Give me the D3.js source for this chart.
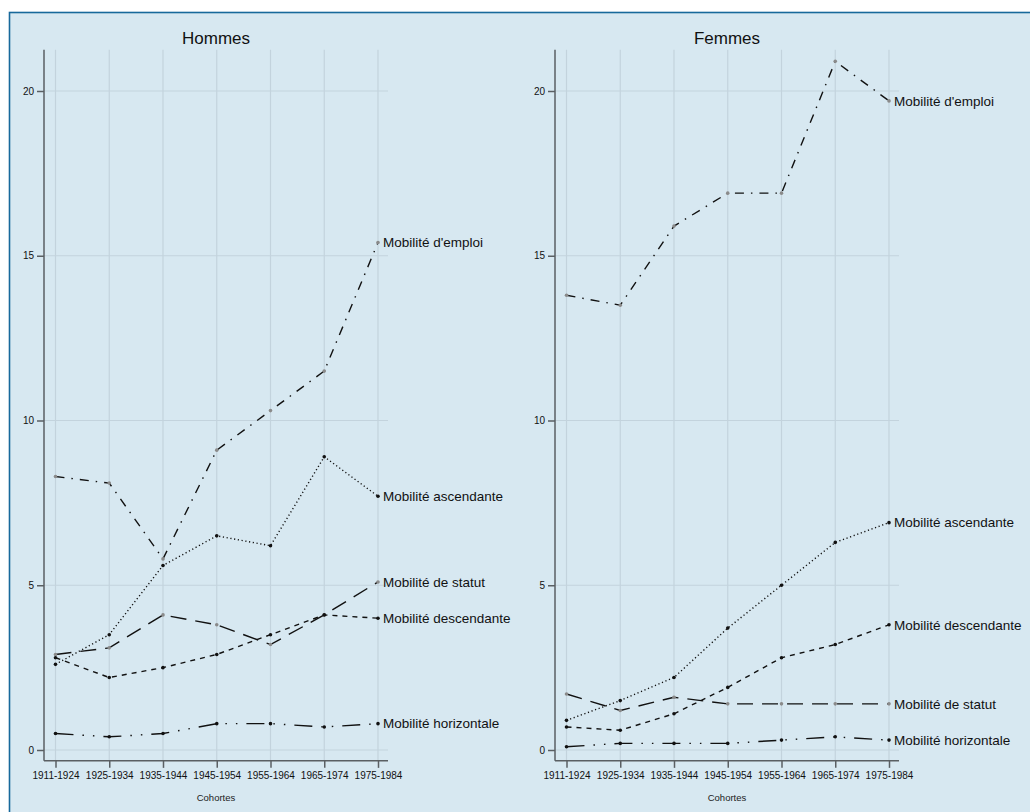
<!DOCTYPE html>
<html>
<head>
<meta charset="utf-8">
<script src="https://cdn.jsdelivr.net/npm/d3@7"></script>
<style>
  body { margin: 0; background: #fff; }
  svg { display: block; font-family: Arial, "Liberation Sans", sans-serif; }
  .grid line { stroke: #c3d3dd; stroke-width: 1.2; }
  .axis path, .axis line { stroke: #5a5f63; stroke-width: 1.5; }
  .axis text { fill: #111; font-size: 10px; }
</style>
</head>
<body>
<svg id="chart" width="1030" height="812"></svg>
<script>
// cohorts on the x axis
var cohortes = ["1911-1924", "1925-1934", "1935-1944", "1945-1954", "1955-1964", "1965-1974", "1975-1984"]
var yTicks = [0, 5, 10, 15, 20]

// Hommes
var hEmploi      = [8.3, 8.1, 5.8, 9.1, 10.3, 11.5, 15.4]
var hAscendante  = [2.6, 3.5, 5.6, 6.5, 6.2, 8.9, 7.7]
var hStatut      = [2.9, 3.1, 4.1, 3.8, 3.2, 4.1, 5.1]
var hDescendante = [2.8, 2.2, 2.5, 2.9, 3.5, 4.1, 4.0]
var hHorizontale = [0.5, 0.4, 0.5, 0.8, 0.8, 0.7, 0.8]

// Femmes
var fEmploi      = [13.8, 13.5, 15.9, 16.9, 16.9, 20.9, 19.7]
var fAscendante  = [0.9, 1.5, 2.2, 3.7, 5.0, 6.3, 6.9]
var fStatut      = [1.7, 1.2, 1.6, 1.4, 1.4, 1.4, 1.4]
var fDescendante = [0.7, 0.6, 1.1, 1.9, 2.8, 3.2, 3.8]
var fHorizontale = [0.1, 0.2, 0.2, 0.2, 0.3, 0.4, 0.3]

// line style per series
var styles = {
  emploi:      { label: "Mobilité d'emploi",     dash: "9,7,1.5,7",         marker: "#8a8a8a" },
  ascendante:  { label: "Mobilité ascendante",   dash: "1.2,2.6",           marker: "#111" },
  statut:      { label: "Mobilité de statut",    dash: "16,9",              marker: "#8a8a8a" },
  descendante: { label: "Mobilité descendante",  dash: "5,5",               marker: "#111" },
  horizontale: { label: "Mobilité horizontale",  dash: "18,9,1.5,9,1.5,9",  marker: "#111" }
}

var svg = d3.select("#chart")

// background frame
svg.append("rect")
  .attr("x", 9.5).attr("y", 12.5)
  .attr("width", 1030).attr("height", 812)
  .attr("fill", "#d7e8f1")
  .attr("stroke", "#17699b")
  .attr("stroke-width", 1.6)

function drawPanel(left, title, series) {
  var x0 = left + 11.5, x1 = left + 334
  var x = d3.scalePoint().domain(cohortes).range([x0, x1])
  var y = d3.scaleLinear().domain([0, 20]).range([750, 91])
  var top = y(21.25), bottom = y(-0.33)
  var right = x1 + 10

  var g = svg.append("g")

  // grid
  var grid = g.append("g").attr("class", "grid")
  grid.selectAll("line.v").data(cohortes).enter().append("line")
    .attr("x1", d => x(d)).attr("x2", d => x(d))
    .attr("y1", top).attr("y2", bottom)
  grid.selectAll("line.h").data(yTicks).enter().append("line")
    .attr("x1", left).attr("x2", right)
    .attr("y1", d => y(d)).attr("y2", d => y(d))

  // axes
  var yAxis = d3.axisLeft(y).tickValues(yTicks).tickSize(7).tickPadding(3)
  var ya = g.append("g").attr("class", "axis")
    .attr("transform", "translate(" + left + ",0)")
    .call(yAxis)
  ya.select(".domain").attr("d", "M0," + top + "V" + bottom)

  var xAxis = d3.axisBottom(x).tickSize(7).tickPadding(4)
  var xa = g.append("g").attr("class", "axis")
    .attr("transform", "translate(0," + bottom + ")")
    .call(xAxis)
  xa.select(".domain").attr("d", "M" + left + ",0H" + right)

  // titles
  g.append("text")
    .attr("x", (left + right) / 2).attr("y", 44)
    .attr("text-anchor", "middle")
    .attr("font-size", 17).attr("fill", "#111")
    .text(title)
  g.append("text")
    .attr("x", (left + right) / 2).attr("y", 801)
    .attr("text-anchor", "middle")
    .attr("font-size", 9.5).attr("fill", "#222")
    .text("Cohortes")

  var line = d3.line()
    .x((d, i) => x(cohortes[i]))
    .y(d => y(d))

  series.forEach(function (s) {
    var st = styles[s.key]
    g.append("path")
      .datum(s.values)
      .attr("d", line)
      .attr("fill", "none")
      .attr("stroke", "#111")
      .attr("stroke-width", 1.4)
      .attr("stroke-dasharray", st.dash)

    g.selectAll(null).data(s.values).enter().append("circle")
      .attr("cx", (d, i) => x(cohortes[i]))
      .attr("cy", d => y(d))
      .attr("r", 1.8)
      .attr("fill", st.marker)

    var last = s.values[s.values.length - 1]
    g.append("text")
      .attr("x", x1 + 5)
      .attr("y", y(last))
      .attr("dy", "0.35em")
      .attr("font-size", 13.5)
      .attr("fill", "#111")
      .text(st.label)
  })
}

drawPanel(44, "Hommes", [
  { key: "emploi", values: hEmploi },
  { key: "ascendante", values: hAscendante },
  { key: "statut", values: hStatut },
  { key: "descendante", values: hDescendante },
  { key: "horizontale", values: hHorizontale }
])

drawPanel(555, "Femmes", [
  { key: "emploi", values: fEmploi },
  { key: "ascendante", values: fAscendante },
  { key: "statut", values: fStatut },
  { key: "descendante", values: fDescendante },
  { key: "horizontale", values: fHorizontale }
])
</script>
</body>
</html>
